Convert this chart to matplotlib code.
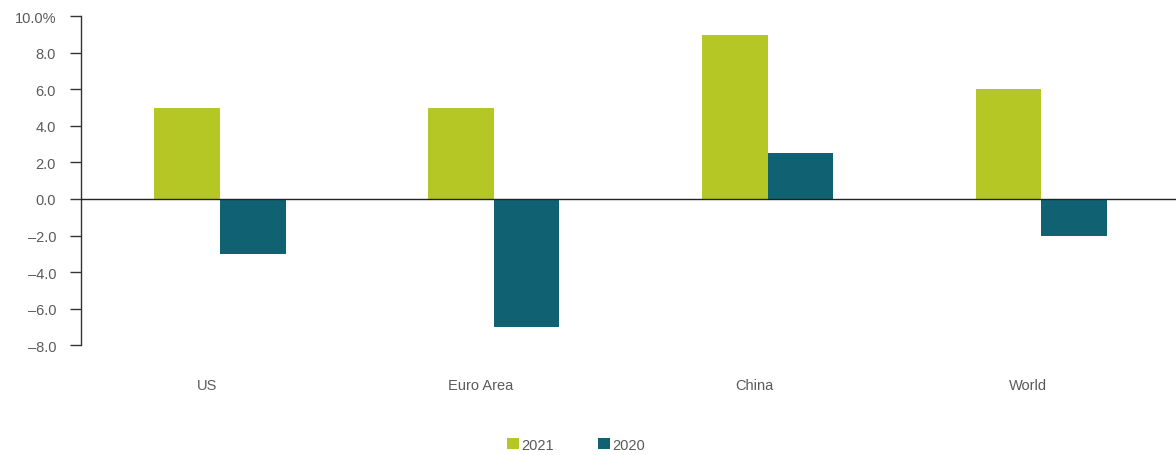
import matplotlib
matplotlib.use("Agg")
import matplotlib.pyplot as plt
from matplotlib.ticker import FixedLocator, FuncFormatter
import numpy as np

categories = ["US", "Euro Area", "China", "World"]
growth_2021 = [5.0, 5.0, 9.0, 6.0]
growth_2020 = [-3.0, -7.0, 2.5, -2.0]
series_labels = ["2021", "2020"]
y_ticks = [10, 8, 6, 4, 2, 0, -2, -4, -6, -8]

color_2021 = "#b4c724"
color_2020 = "#106272"
text_color = "#5a5a5a"

plt.rcParams["font.family"] = ["Liberation Sans", "DejaVu Sans"]

fig = plt.figure(figsize=(11.76, 4.56), dpi=100)
ax = fig.add_axes([0.0689, 0.241, 0.931, 0.721])

x = np.arange(len(categories))
w = 0.24
b1 = ax.bar(x - w / 2 + 0.008, growth_2021, width=w, color=color_2021, label=series_labels[0])
b2 = ax.bar(x + w / 2 + 0.008, growth_2020, width=w, color=color_2020, label=series_labels[1])

ax.set_xlim(-0.5, len(categories) - 0.5)
ax.set_ylim(-8, 10)
ax.axhline(0, color="#222222", linewidth=1.0, zorder=3)

for side in ["top", "right", "bottom"]:
    ax.spines[side].set_visible(False)
ax.spines["left"].set_color("#333333")
ax.spines["left"].set_linewidth(1.0)

ax.yaxis.set_major_locator(FixedLocator(y_ticks))


def fmt(v, pos):
    s = f"{abs(v):.1f}"
    if v < 0:
        s = "\u2013" + s
    if v == max(y_ticks):
        s += "%"
    return s


ax.yaxis.set_major_formatter(FuncFormatter(fmt))
ax.tick_params(axis="y", direction="out", length=8, width=1.0, color="#333333",
               labelsize=10.5, labelcolor=text_color, pad=10)
ax.set_xticks([])

# category names sit slightly left of their bar pairs
for xi, name in zip(x, categories):
    ax.text(xi - 0.04, -10.2, name, ha="center", va="center", fontsize=10.5,
            color=text_color, clip_on=False)

leg = fig.legend(handles=[b1, b2], labels=series_labels, loc="center",
                 bbox_to_anchor=(0.49, 0.022), ncol=2, frameon=False,
                 fontsize=10.5, handlelength=0.8, handleheight=0.8,
                 handletextpad=0.2, columnspacing=3.0)
for t in leg.get_texts():
    t.set_color(text_color)

fig.savefig("out.png", dpi=100, facecolor="white")
